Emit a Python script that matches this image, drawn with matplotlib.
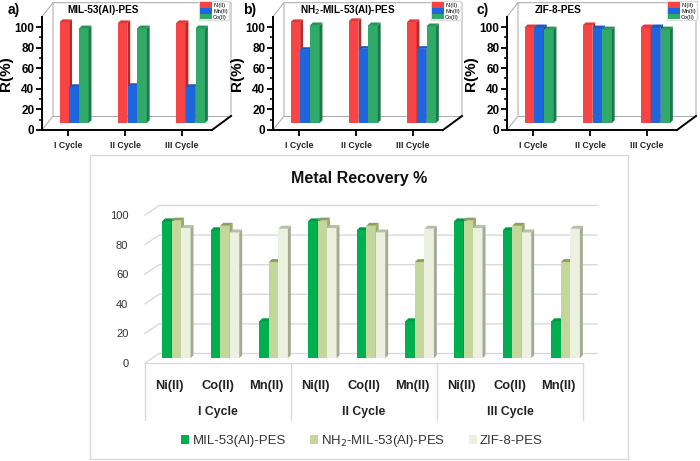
import matplotlib
matplotlib.use("Agg")
import matplotlib.pyplot as plt
from matplotlib.patches import Polygon, Patch, Rectangle
from matplotlib.lines import Line2D

plt.rcParams["font.family"] = ["Liberation Sans", "DejaVu Sans"]

# top panels: rejection R(%) per cycle
cycles = ["I Cycle", "II Cycle", "III Cycle"]
metals_top = ["Ni(II)", "Mn(II)", "Co(II)"]
mil_ni = [98, 97, 97]
mil_mn = [35, 36, 35]
mil_co = [92, 92, 92]
nh2_ni = [98, 99, 98]
nh2_mn = [71, 72, 72]
nh2_co = [95, 95, 94]
zif_ni = [93, 95, 93]
zif_mn = [93, 92, 93]
zif_co = [91, 91, 91]

# bottom panel: metal recovery %
metals_bot = ["Ni(II)", "Co(II)", "Mn(II)"]
rec_mil = [92.5, 86.5, 25]
rec_nh2 = [93, 89.5, 65]
rec_zif = [88, 85, 87.5]
series_bot = ["MIL-53(Al)-PES", "NH$_2$-MIL-53(Al)-PES", "ZIF-8-PES"]

W, H = 700, 461
fig = plt.figure(figsize=(7, 4.61), dpi=100)


def fig_axes(l, t, r, b):
    return fig.add_axes([l / W, 1 - b / H, (r - l) / W, (b - t) / H])


def bar3d(ax, x, v, w, base, sx, sy, cols, z):
    front, side, top = cols
    ax.bar(x, v, w, bottom=base, align="edge", color=front, zorder=z,
           clip_on=False, linewidth=0)
    ax.add_patch(Polygon([(x + w, base), (x + w + sx, base + sy),
                          (x + w + sx, base + v + sy), (x + w, base + v)],
                         closed=True, fc=side, ec="none", zorder=z, clip_on=False))
    ax.add_patch(Polygon([(x, base + v), (x + sx, base + v + sy),
                          (x + w + sx, base + v + sy), (x + w, base + v)],
                         closed=True, fc=top, ec="none", zorder=z, clip_on=False))


# white card behind the bottom chart
fig.add_artist(Rectangle((90 / W, 1 - 459 / H), 538 / W, 304 / H, transform=fig.transFigure,
                         fc="white", ec="#d9d9d9", lw=1, zorder=-10))

top_cols = [("#F84444", "#B82A2A", "#E03838"),
            ("#1D66DE", "#12449E", "#1857C4"),
            ("#2FAA68", "#1D7A48", "#279458")]

panels = [
    ("a)", "MIL-53(Al)-PES", (mil_ni, mil_mn, mil_co), 42, 212, 8, 67, 199),
    ("b)", "NH$_2$-MIL-53(Al)-PES", (nh2_ni, nh2_mn, nh2_co), 273, 443, 243, 300, 431),
    ("c)", "ZIF-8-PES", (zif_ni, zif_mn, zif_co), 507, 677, 477, 535, 667),
]

x0, x1 = -0.46, 2.53
ytop = 110
for letter, title, vals, l, r, lx, tx, legx in panels:
    ax = fig_axes(l, 130 - ytop * 1.03, r, 130)
    ax.set_xlim(x0, x1)
    ax.set_ylim(0, ytop)
    upx = (x1 - x0) / (r - l)
    dxl, dxr = 11 * upx, 19 * upx
    dy = 14 / 1.03

    def off(x):
        return dxl + (dxr - dxl) * (x - x0) / (x1 - x0)

    g = "#a8a8a8"
    wall = [(x0, 0), (x0 + dxl, dy), (x0 + dxl, ytop + dy), (x1 + dxr, ytop + dy), (x1 + dxr, dy)]
    ax.add_line(Line2D([p[0] for p in wall], [p[1] for p in wall], color=g, lw=0.7, clip_on=False))
    ax.add_line(Line2D([x0, x0 + dxl], [ytop, ytop + dy], color=g, lw=0.7, clip_on=False))
    ax.add_line(Line2D([x0 + dxl, x1 + dxr], [dy, dy], color=g, lw=0.7, clip_on=False))
    ax.add_line(Line2D([x1, x1 + dxr], [0, dy], color="black", lw=1.4, clip_on=False))

    w = 0.167
    for i in range(len(cycles)):
        for j, series in enumerate(vals):
            xb = i - 1.5 * w + j * w
            xb += off(xb) / 2
            bar3d(ax, xb, series[i], w, dy / 2, 0.05, 2.6, top_cols[j], 3 + j)

    for s in ["top", "right"]:
        ax.spines[s].set_visible(False)
    for s in ["left", "bottom"]:
        ax.spines[s].set_linewidth(1.4)
    ax.set_yticks(range(0, 101, 20))
    ax.set_yticks(range(10, 101, 20), minor=True)
    ax.set_xticks(range(3))
    ax.set_xticklabels(cycles, fontsize=6.3, fontweight="bold", color="#222222")
    ax.tick_params(axis="y", which="major", length=4, width=1.3, labelsize=8.5, pad=1.5)
    ax.tick_params(axis="y", which="minor", length=2.5, width=1.1)
    ax.tick_params(axis="x", length=4, width=1.3, pad=4)
    for t in ax.get_yticklabels():
        t.set_fontweight("bold")
    ax.set_ylabel("R(%)", fontsize=11, fontweight="bold", labelpad=1)

    fig.text(lx / W, 1 - 10 / H, letter, fontsize=10, fontweight="bold", va="center")
    fig.text(tx / W, 1 - 10 / H, title, fontsize=7.2, fontweight="bold", va="center")

    hs = [Patch(fc=c[0], ec="none") for c in top_cols]
    fig.legend(hs, metals_top, loc="upper left", bbox_to_anchor=(legx / W, 1 - 1.5 / H),
               fontsize=4, handlelength=2.2, handleheight=1.2, labelspacing=0.0,
               handletextpad=0.2, borderpad=0.15, borderaxespad=0, frameon=True,
               fancybox=False, edgecolor="#dddddd", framealpha=1)

# bottom panel
fig.text(359 / W, 1 - 179 / H, "Metal Recovery %", fontsize=11.5, fontweight="bold",
         ha="center", va="center", color="#111111")

bx = fig_axes(145, 215, 583, 363)
bx.patch.set_alpha(0)
n = len(cycles) * len(metals_bot)
bx.set_xlim(0, n)
bx.set_ylim(0, 100)
upx = n / (583 - 145)
ddx = 14 * upx
ddy = 9.5 / 1.48
gc = "#d9d9d9"
for v in range(0, 101, 20):
    bx.add_line(Line2D([0, ddx, n + ddx], [v, v + ddy, v + ddy], color=gc, lw=1, clip_on=False, zorder=0))
bx.add_line(Line2D([0, n], [0, 0], color=gc, lw=1, clip_on=False, zorder=0))
sep_y = -(420 - 363) / 1.48
for k in range(len(cycles) + 1):
    bx.add_line(Line2D([3 * k, 3 * k], [0, sep_y], color=gc, lw=1, clip_on=False))

bot_cols = [("#00B050", "#00813A", "#009A45"),
            ("#C3D69B", "#98AA6E", "#8F9E5E"),
            ("#EBF1DE", "#A3AB92", "#B8BFA6")]
bw = 0.195
for c in range(len(cycles)):
    for m in range(len(metals_bot)):
        k = c * len(metals_bot) + m
        for j, series in enumerate([rec_mil, rec_nh2, rec_zif]):
            xb = k + 0.5 - 1.5 * bw + j * bw + ddx / 2
            bar3d(bx, xb, series[m], bw, ddy / 2, 0.06, 2.0, bot_cols[j], 3 + j)

for s in bx.spines.values():
    s.set_visible(False)
bx.set_yticks(range(0, 101, 20))
bx.tick_params(axis="y", length=0, labelsize=8, labelcolor="#333333", pad=12)
bx.set_xticks([k + 0.5 for k in range(n)])
bx.set_xticklabels(metals_bot * len(cycles), fontsize=9.3, fontweight="bold", color="#222222")
bx.tick_params(axis="x", length=0, pad=12)
for c, name in enumerate(cycles):
    bx.text(3 * c + 1.5, -(412 - 363) / 1.48, name, ha="center", va="center",
            fontsize=8.8, fontweight="bold", color="#222222")

hs = [Patch(fc=c[0], ec="none") for c in bot_cols]
fig.legend(hs, series_bot, loc="center", bbox_to_anchor=(362 / W, 1 - 441 / H), ncol=3,
           fontsize=9.5, handlelength=0.6, handleheight=0.6, handletextpad=0.25,
           columnspacing=1.8, frameon=False, labelcolor="#333333")

fig.savefig("out.png", dpi=100)
